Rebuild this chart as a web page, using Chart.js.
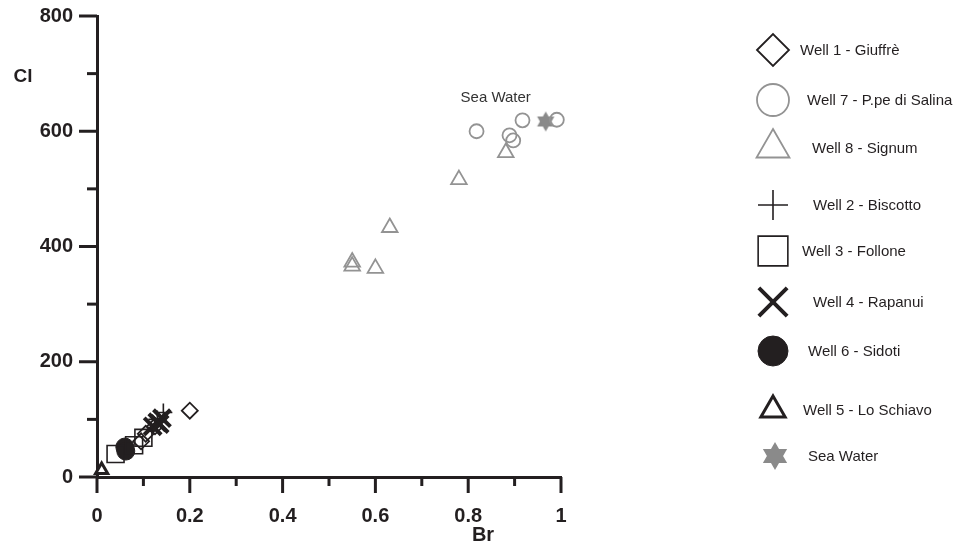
<!DOCTYPE html>
<html>
<head>
<meta charset="utf-8">
<script src="https://cdn.jsdelivr.net/npm/chart.js@4.4.1/dist/chart.umd.min.js"></script>
<style>
  html, body { margin: 0; padding: 0; background: #fff; }
  #wrap { width: 967px; height: 548px; }
</style>
</head>
<body>
<div id="wrap"><canvas id="myChart" width="967" height="548"></canvas></div>
<script>
// Br (x) / Cl (y) values
const well1Br = [0.2, 0.095, 0.105, 0.125];
const well1Cl = [115, 62, 75, 88];
const well7Br = [0.818, 0.917, 0.889, 0.897, 0.991];
const well7Cl = [600, 619, 593, 584, 620];
const well8Br = [0.55, 0.55, 0.6, 0.631, 0.78, 0.881];
const well8Cl = [373, 366, 362, 433, 516, 563];
const well2Br = [0.143, 0.13];
const well2Cl = [112, 100];
const well3Br = [0.04, 0.1, 0.08];
const well3Cl = [40, 68, 55];
const well4Br = [0.12, 0.13, 0.14, 0.135];
const well4Cl = [88, 95, 102, 92];
const well6Br = [0.06, 0.062];
const well6Cl = [52, 45];
const well5Br = [0.01];
const well5Cl = [12];
const seaBr = [0.967];
const seaCl = [617];

const xTicks = [0, 0.2, 0.4, 0.6, 0.8, 1];
const yTicks = [0, 200, 400, 600, 800];

const BLACK = '#231f20';
const GREY = '#939393';
const FONT = "'Liberation Sans', Arial, sans-serif";

function toPoints(xs, ys) {
    return xs.map((x, i) => ({ x: x, y: ys[i] }));
}

// six pointed star as an image
function makeStar(r, color) {
    const c = document.createElement('canvas');
    c.width = c.height = Math.ceil(r * 2 + 2);
    const g = c.getContext('2d');
    const cx = c.width / 2;
    g.fillStyle = color;
    for (let t = 0; t < 2; t++) {
        g.beginPath();
        for (let k = 0; k < 3; k++) {
            const a = -Math.PI / 2 + t * Math.PI + k * 2 * Math.PI / 3;
            const px = cx + Math.cos(a) * r;
            const py = cx + Math.sin(a) * r;
            if (k === 0) g.moveTo(px, py); else g.lineTo(px, py);
        }
        g.closePath();
        g.fill();
    }
    return c;
}

const starSmall = makeStar(10, '#8a8a8a');
const starBig = makeStar(14, '#8a8a8a');

const datasets = [
    { label: 'Well 1 - Giuffrè', data: toPoints(well1Br, well1Cl), pointStyle: 'rectRot', pointRadius: 8, borderColor: BLACK, borderWidth: 1.8, backgroundColor: 'rgba(0,0,0,0)', lr: 16, tx: 800 },
    { label: 'Well 7 - P.pe di Salina', data: toPoints(well7Br, well7Cl), pointStyle: 'circle', pointRadius: 7, borderColor: GREY, borderWidth: 1.8, backgroundColor: 'rgba(0,0,0,0)', lr: 16, tx: 807 },
    { label: 'Well 8 - Signum', data: toPoints(well8Br, well8Cl), pointStyle: 'triangle', pointRadius: 9, borderColor: GREY, borderWidth: 1.8, backgroundColor: 'rgba(0,0,0,0)', lr: 19, tx: 812 },
    { label: 'Well 2 - Biscotto', data: toPoints(well2Br, well2Cl), pointStyle: 'cross', pointRadius: 9, borderColor: BLACK, borderWidth: 1.6, backgroundColor: 'rgba(0,0,0,0)', lr: 15, tx: 813 },
    { label: 'Well 3 - Follone', data: toPoints(well3Br, well3Cl), pointStyle: 'rect', pointRadius: 12, borderColor: BLACK, borderWidth: 1.6, backgroundColor: 'rgba(0,0,0,0)', lr: 21, tx: 802 },
    { label: 'Well 4 - Rapanui', data: toPoints(well4Br, well4Cl), pointStyle: 'crossRot', pointRadius: 12, borderColor: BLACK, borderWidth: 4, backgroundColor: 'rgba(0,0,0,0)', lr: 20, tx: 813 },
    { label: 'Well 6 - Sidoti', data: toPoints(well6Br, well6Cl), pointStyle: 'circle', pointRadius: 9, borderColor: BLACK, borderWidth: 1, backgroundColor: BLACK, lr: 15, tx: 808 },
    { label: 'Well 5 - Lo Schiavo', data: toPoints(well5Br, well5Cl), pointStyle: 'triangle', pointRadius: 7, borderColor: BLACK, borderWidth: 3, backgroundColor: '#fff', lr: 14, tx: 803 },
    { label: 'Sea Water', data: toPoints(seaBr, seaCl), pointStyle: starSmall, pointRadius: 10, borderColor: '#8a8a8a', borderWidth: 0, backgroundColor: '#8a8a8a', lr: 14, tx: 808, legendImg: starBig }
];
datasets.forEach(ds => { ds.clip = false; });

const legendY = [50, 100, 148, 205, 251, 302, 351, 410, 456];

const extras = {
    id: 'extras',
    afterDraw(chart) {
        const ctx = chart.ctx;
        const xs = chart.scales.x;
        const ys = chart.scales.y;
        const area = chart.chartArea;
        ctx.save();
        ctx.strokeStyle = BLACK;
        ctx.lineWidth = 3;
        ctx.lineCap = 'butt';
        // x ticks: major every 0.2, minor every 0.1
        for (let i = 0; i <= 10; i++) {
            const px = xs.getPixelForValue(i / 10);
            const len = i % 2 === 0 ? 16 : 9;
            ctx.beginPath();
            ctx.moveTo(px, area.bottom);
            ctx.lineTo(px, area.bottom + len);
            ctx.stroke();
        }
        // y ticks: major every 200, minor every 100
        for (let i = 0; i <= 8; i++) {
            const py = ys.getPixelForValue(i * 100);
            const len = i % 2 === 0 ? 18 : 10;
            ctx.beginPath();
            ctx.moveTo(area.left, py);
            ctx.lineTo(area.left - len, py);
            ctx.stroke();
        }
        // axis titles
        ctx.fillStyle = BLACK;
        ctx.font = 'bold 19px ' + FONT;
        ctx.textAlign = 'center';
        ctx.textBaseline = 'middle';
        ctx.fillText('Cl', 23, 77);
        ctx.font = 'bold 20px ' + FONT;
        ctx.fillText('Br', 483, 535);
        // sea water annotation
        ctx.fillStyle = '#333';
        ctx.font = '15px ' + FONT;
        ctx.fillText('Sea Water', xs.getPixelForValue(seaBr[0]) - 50, ys.getPixelForValue(seaCl[0]) - 24);
        // legend
        ctx.textAlign = 'left';
        ctx.font = '15px ' + FONT;
        chart.data.datasets.forEach((ds, i) => {
            const y = legendY[i];
            if (ds.legendImg) {
                const img = ds.legendImg;
                ctx.drawImage(img, 775 - img.width / 2, y - img.height / 2);
            } else {
                ctx.save();
                ctx.strokeStyle = ds.borderColor;
                ctx.fillStyle = ds.backgroundColor;
                ctx.lineWidth = ds.borderWidth;
                Chart.helpers.drawPoint(ctx, { pointStyle: ds.pointStyle, radius: ds.lr, borderWidth: ds.borderWidth, rotation: 0 }, 773, y);
                ctx.restore();
            }
            ctx.fillStyle = BLACK;
            ctx.fillText(ds.label, ds.tx, y + 1);
        });
        ctx.restore();
    }
};

const tickFont = { family: FONT, size: 20, weight: 'bold' };

function noPad(scale) {
    scale.paddingTop = 0;
    scale.paddingBottom = 0;
    scale.paddingLeft = 0;
    scale.paddingRight = 0;
}

var ctx = document.getElementById('myChart').getContext('2d');

var myChart = new Chart(ctx, { // eslint-disable-line
    type: 'scatter',
    data: { datasets: datasets },
    options: {
        responsive: false,
        animation: false,
        layout: { padding: { top: 15, right: 406, left: 0, bottom: 0 } },
        plugins: {
            legend: { display: false },
            tooltip: { enabled: false }
        },
        scales: {
            x: {
                type: 'linear',
                min: 0,
                max: 1,
                afterFit(scale) { scale.height = 71; noPad(scale); },
                afterBuildTicks(scale) { scale.ticks = xTicks.map(v => ({ value: v })); },
                grid: { display: false, drawTicks: false },
                border: { display: true, color: BLACK, width: 3 },
                ticks: {
                    color: BLACK,
                    font: tickFont,
                    padding: 27,
                    maxRotation: 0,
                    callback: v => String(v)
                }
            },
            y: {
                type: 'linear',
                min: 0,
                max: 800,
                afterFit(scale) { scale.width = 97; noPad(scale); },
                afterBuildTicks(scale) { scale.ticks = yTicks.map(v => ({ value: v })); },
                grid: { display: false, drawTicks: false },
                border: { display: true, color: BLACK, width: 3 },
                ticks: {
                    color: BLACK,
                    font: tickFont,
                    padding: 24,
                    callback: v => String(v)
                }
            }
        }
    },
    plugins: [extras]
});
</script>
</body>
</html>
